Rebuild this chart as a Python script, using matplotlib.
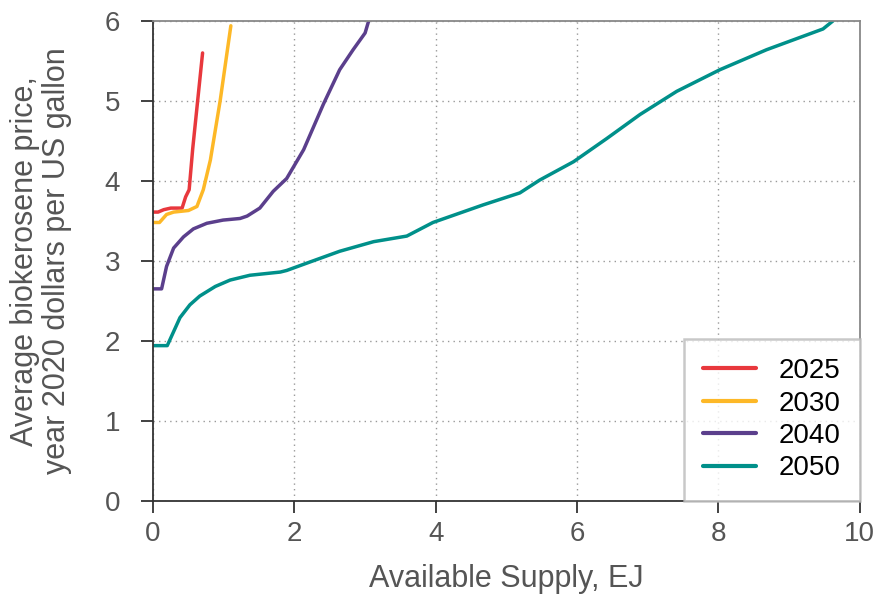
import matplotlib
matplotlib.use("Agg")
import matplotlib.pyplot as plt

plt.rcParams['font.family'] = ['Liberation Sans', 'DejaVu Sans']

years = ["2025", "2030", "2040", "2050"]
colors = ["#E8383D", "#FDB827", "#5B3F8C", "#00908A"]

x_2025 = [0.0, 0.07, 0.15, 0.25, 0.41, 0.46, 0.51, 0.56, 0.63, 0.70]
y_2025 = [3.61, 3.61, 3.64, 3.66, 3.66, 3.80, 3.89, 4.40, 5.00, 5.60]

x_2030 = [0.0, 0.09, 0.19, 0.29, 0.50, 0.62, 0.71, 0.81, 0.95, 1.10]
y_2030 = [3.48, 3.48, 3.58, 3.61, 3.63, 3.68, 3.89, 4.26, 5.01, 5.94]

x_2040 = [0.0, 0.12, 0.19, 0.29, 0.43, 0.57, 0.76, 0.99, 1.23, 1.33, 1.51,
          1.70, 1.89, 2.13, 2.41, 2.64, 2.83, 3.00, 3.05]
y_2040 = [2.65, 2.65, 2.93, 3.16, 3.30, 3.40, 3.47, 3.51, 3.53, 3.56, 3.66,
          3.87, 4.03, 4.39, 4.96, 5.39, 5.64, 5.85, 6.00]

x_2050 = [0.0, 0.20, 0.38, 0.52, 0.66, 0.88, 1.09, 1.37, 1.80, 1.89, 2.17,
          2.64, 3.12, 3.59, 3.96, 4.67, 5.19, 5.47, 5.95, 6.42, 6.89, 7.41,
          8.02, 8.68, 9.48, 9.62]
y_2050 = [1.94, 1.94, 2.29, 2.45, 2.56, 2.68, 2.76, 2.82, 2.86, 2.88, 2.97,
          3.12, 3.24, 3.31, 3.48, 3.70, 3.85, 4.01, 4.24, 4.53, 4.83, 5.12,
          5.39, 5.64, 5.90, 6.00]

series = [(x_2025, y_2025), (x_2030, y_2030), (x_2040, y_2040), (x_2050, y_2050)]

x_ticks = [0, 2, 4, 6, 8, 10]
y_ticks = [0, 1, 2, 3, 4, 5, 6]

fig = plt.figure(figsize=(8.8, 5.99), dpi=100)
ax = fig.add_axes([0.174, 0.164, 0.803, 0.801])

for (xs, ys), c, lab in zip(series, colors, years):
    ax.plot(xs, ys, color=c, lw=2.5, label=lab, solid_capstyle='round',
            solid_joinstyle='round')

ax.set_xlim(0, 10)
ax.set_ylim(0, 6)
ax.set_xticks(x_ticks)
ax.set_yticks(y_ticks)
ax.grid(True, linestyle=(0, (1, 3)), color='#999999', lw=1.0)
ax.set_axisbelow(True)

for s in ['top', 'right']:
    ax.spines[s].set_color('#888888')
    ax.spines[s].set_linewidth(1.3)
for s in ['left', 'bottom']:
    ax.spines[s].set_color('#333333')
    ax.spines[s].set_linewidth(1.3)

ax.tick_params(axis='both', direction='out', length=8.6, width=1.3, color='#333333',
               labelsize=20, labelcolor='#555555')
ax.tick_params(axis='x', pad=6)
ax.tick_params(axis='y', pad=15)
ax.tick_params(top=False, right=False)

ax.set_xlabel("Available Supply, EJ", fontsize=22, color='#555555', labelpad=12)
ax.set_ylabel("Average biokerosene price,\nyear 2020 dollars per US gallon",
              fontsize=22, color='#555555', labelpad=24, linespacing=1.05)

leg = ax.legend(loc='lower right', fontsize=20, frameon=True, fancybox=False,
                borderaxespad=0, handlelength=1.9, handletextpad=0.8,
                borderpad=0.7, labelspacing=0.23)
leg.get_frame().set_edgecolor('#bbbbbb')
leg.get_frame().set_linewidth(1.8)
for line in leg.get_lines():
    line.set_linewidth(3)

fig.savefig("out.png", dpi=100)
